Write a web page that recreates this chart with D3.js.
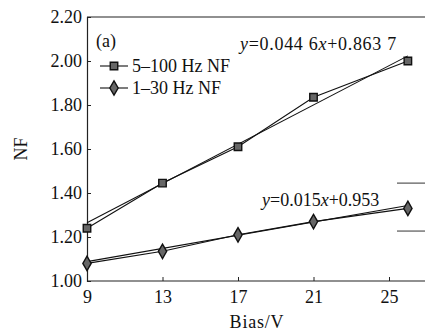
<!DOCTYPE html>
<html>
<head>
<meta charset="utf-8">
<script src="https://cdn.jsdelivr.net/npm/d3@7"></script>
<style>
  body { margin: 0; background: #fff; }
  svg text { font-family: "Liberation Serif", "DejaVu Serif", "Times New Roman", serif !important; }
</style>
</head>
<body>
<div id="chart"></div>
<script>
// ========== DATA ==========
const bias = [9, 13, 17, 21, 26];
const nfWide = [1.24, 1.445, 1.61, 1.835, 2.00];   // 5–100 Hz NF
const nfNarrow = [1.08, 1.135, 1.21, 1.27, 1.33];  // 1–30 Hz NF
const fitWide = { k: 0.0446, b: 0.8637, label: "0.044 6", label2: "0.863 7" };
const fitNarrow = { k: 0.015, b: 0.953, label: "0.015", label2: "0.953" };
const xTicks = [9, 13, 17, 21, 25];
const yTicks = [1.0, 1.2, 1.4, 1.6, 1.8, 2.0, 2.2];
const rightMarks = [1.445, 1.227];

const W = 425, H = 332;
const svg = d3.select("#chart").append("svg").attr("width", W).attr("height", H);

const x = d3.scaleLinear().domain([9, 27]).range([87, 426.75]);
const y = d3.scaleLinear().domain([1.0, 2.2]).range([281, 17]);

// Frame: top border
svg.append("line")
  .attr("x1", x(9)).attr("x2", W).attr("y1", y(2.2)).attr("y2", y(2.2))
  .attr("stroke", "#222").attr("stroke-width", 1.2);

// Axes
const xAxis = d3.axisBottom(x).tickValues(xTicks).tickSize(-4).tickPadding(9).tickFormat(d3.format("d"));
const gx = svg.append("g").attr("transform", `translate(0,${y(1.0)})`).call(xAxis);
gx.select(".domain").attr("d", `M${x(9)},0H${W}`);

const yAxis = d3.axisLeft(y).tickValues(yTicks).tickSize(-4).tickPadding(5).tickFormat(d3.format(".2f"));
const gy = svg.append("g").attr("transform", `translate(${x(9)},0)`).call(yAxis);

[gx, gy].forEach(g => {
  g.attr("font-family", null);
  g.selectAll(".domain").attr("stroke", "#222").attr("stroke-width", 1.2);
  g.selectAll(".tick line").attr("stroke", "#222");
  g.selectAll("text").attr("font-size", 18).attr("fill", "#111");
});
gy.selectAll(".tick").filter(d => d === 1.0 || d === 2.2).select("line").remove();
gx.selectAll(".tick").filter(d => d === 9).select("line").remove();

// Axis titles
svg.append("text").attr("x", 257).attr("y", 328).attr("text-anchor", "middle")
  .attr("font-size", 18).attr("letter-spacing", 0.8).attr("fill", "#111").text("Bias/V");
svg.append("text").attr("transform", "translate(27,149) rotate(-90)").attr("text-anchor", "middle")
  .attr("font-size", 18).attr("fill", "#111").text("NF");

// Right side marks
svg.selectAll(".rmark").data(rightMarks).join("line")
  .attr("x1", 397).attr("x2", W).attr("y1", d => y(d)).attr("y2", d => y(d))
  .attr("stroke", "#333").attr("stroke-width", 1);

// Series
const line = d3.line().x(d => x(d[0])).y(d => y(d[1]));
const wide = bias.map((b, i) => [b, nfWide[i]]);
const narrow = bias.map((b, i) => [b, nfNarrow[i]]);
const xEnds = [bias[0], bias[bias.length - 1]];

[[fitWide, wide], [fitNarrow, narrow]].forEach(([f, pts]) => {
  svg.append("path").attr("d", line(xEnds.map(v => [v, f.k * v + f.b])))
    .attr("fill", "none").attr("stroke", "#111").attr("stroke-width", 1.1);
  svg.append("path").attr("d", line(pts))
    .attr("fill", "none").attr("stroke", "#111").attr("stroke-width", 1.1);
});

const sq = d3.symbol().type(d3.symbolSquare).size(56);
const dm = d3.symbol().type(d3.symbolDiamond).size(60);

function markers(pts, sym) {
  svg.append("g").selectAll("path").data(pts).join("path")
    .attr("d", sym)
    .attr("transform", d => `translate(${x(d[0])},${y(d[1])})`)
    .attr("fill", "#666").attr("stroke", "#111").attr("stroke-width", 1.4);
}
markers(wide, sq);
markers(narrow, dm);

// Labels
svg.append("text").attr("x", 96).attr("y", 47).attr("font-size", 18).attr("fill", "#111").text("(a)");

function eqLabel(f, xPos, yPos, ls) {
  const t = svg.append("text").attr("x", xPos).attr("y", yPos).attr("font-size", 18)
    .attr("letter-spacing", ls).attr("fill", "#111");
  t.append("tspan").attr("font-style", "italic").text("y");
  t.append("tspan").text("=" + f.label);
  t.append("tspan").attr("font-style", "italic").text("x");
  t.append("tspan").text("+" + f.label2);
}
eqLabel(fitWide, 240, 50, 0.7);
eqLabel(fitNarrow, 262, 206, 0);

// Legend
const legend = [
  { label: "5\u2013100 Hz NF", sym: sq, yv: 66 },
  { label: "1\u201330 Hz NF", sym: dm, yv: 88 }
];
legend.forEach(l => {
  svg.append("line").attr("x1", 100).attr("x2", 128).attr("y1", l.yv).attr("y2", l.yv)
    .attr("stroke", "#111").attr("stroke-width", 1.1);
  svg.append("path").attr("d", l.sym).attr("transform", `translate(114,${l.yv})`)
    .attr("fill", "#666").attr("stroke", "#111").attr("stroke-width", 1.4);
  svg.append("text").attr("x", 132).attr("y", l.yv + 6).attr("font-size", 18).attr("fill", "#111").text(l.label);
});
</script>
</body>
</html>
